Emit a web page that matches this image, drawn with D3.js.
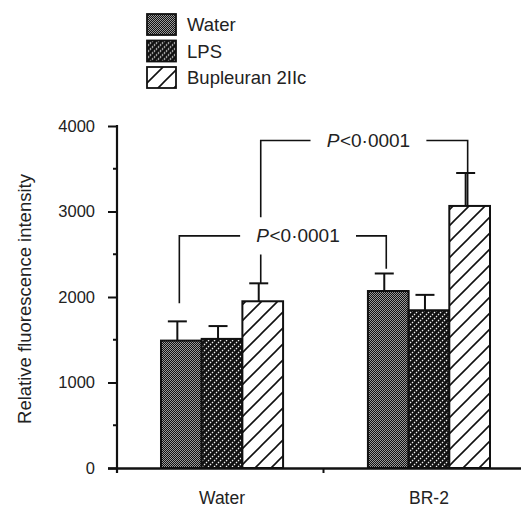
<!DOCTYPE html>
<html>
<head>
<meta charset="utf-8">
<script src="https://cdn.jsdelivr.net/npm/d3@7"></script>
<style>
body { margin: 0; background: #fff; overflow: hidden; }
svg { display: block; }
</style>
</head>
<body>
<svg width="521" height="509"></svg>
<script>
const groups = ['Water', 'BR-2']
const series = ['Water', 'LPS', 'Bupleuran 2IIc']
const waterMeans = [1490, 1510, 1950]
const waterErrors = [225, 150, 210]
const br2Means = [2070, 1845, 3065]
const br2Errors = [205, 180, 385]
const yTicks = [0, 1000, 2000, 3000, 4000]
const yMinorTicks = [500, 1500, 2500, 3500]
const bracketSeries = ['Water', 'Bupleuran 2IIc']
const bracketTops = [2715, 3830]
const bracketLeftEnds = [1935, 2160]
const bracketRightEnds = [2340, 3065]
const bracketLabels = ['<0·0001', '<0·0001']

const font = "'Liberation Sans', Arial, sans-serif"

const svg = d3.select('svg')
  .attr('font-family', font)
const width = +svg.attr('width')
const height = +svg.attr('height')

const margin = { top: 126, left: 117 }
const innerHeight = 342
const innerWidth = width - margin.left

// patterns for the three treatments
const defs = svg.append('defs')

const pWater = defs.append('pattern')
  .attr('id', 'pat-water')
  .attr('patternUnits', 'userSpaceOnUse')
  .attr('width', 2).attr('height', 2)
pWater.append('rect').attr('width', 2).attr('height', 2).attr('fill', '#9a9a9a')
pWater.append('rect').attr('width', 1).attr('height', 1).attr('fill', '#111')
pWater.append('rect').attr('x', 1).attr('y', 1).attr('width', 1).attr('height', 1).attr('fill', '#111')

const pLps = defs.append('pattern')
  .attr('id', 'pat-lps')
  .attr('patternUnits', 'userSpaceOnUse')
  .attr('width', 6).attr('height', 6)
pLps.append('rect').attr('width', 6).attr('height', 6).attr('fill', '#111')
pLps.append('path')
  .attr('d', 'M-1,7 L7,-1 M-1,1 L1,-1 M5,7 L7,5')
  .attr('stroke', '#fff')
  .attr('stroke-width', 1.1)
  .attr('stroke-dasharray', '1.6,1.2')

const pBup = defs.append('pattern')
  .attr('id', 'pat-bup')
  .attr('patternUnits', 'userSpaceOnUse')
  .attr('width', 16).attr('height', 16)
pBup.append('rect').attr('width', 16).attr('height', 16).attr('fill', '#fff')
pBup.append('path')
  .attr('d', 'M-2,18 L18,-2 M-2,2 L2,-2 M14,18 L18,14')
  .attr('stroke', '#111')
  .attr('stroke-width', 1.6)

const fills = d3.scaleOrdinal()
  .domain(series)
  .range(['url(#pat-water)', 'url(#pat-lps)', 'url(#pat-bup)'])

const data = []
groups.forEach((g, gi) => {
  const means = gi === 0 ? waterMeans : br2Means
  const errs = gi === 0 ? waterErrors : br2Errors
  series.forEach((s, si) => {
    data.push({ group: g, series: s, value: means[si], err: errs[si] })
  })
})

const x = d3.scaleBand()
  .domain(groups)
  .range([0, 417])
  .paddingInner(0.41)
  .paddingOuter(0.2126)

const xInner = d3.scaleBand()
  .domain(series)
  .range([0, x.bandwidth()])

const y = d3.scaleLinear()
  .domain([0, 4000])
  .range([innerHeight, 0])

const cx = (g, s) => x(g) + xInner(s) + xInner.bandwidth() / 2

const g = svg.append('g')
  .attr('transform', `translate(${margin.left}, ${margin.top})`)

// bars
g.selectAll('.bar')
  .data(data)
  .enter()
  .append('rect')
  .attr('class', 'bar')
  .attr('x', d => x(d.group) + xInner(d.series))
  .attr('y', d => y(d.value))
  .attr('width', xInner.bandwidth())
  .attr('height', d => y(0) - y(d.value))
  .attr('fill', d => fills(d.series))
  .attr('stroke', '#111')
  .attr('stroke-width', 2)

// error bars
const err = g.selectAll('.err')
  .data(data)
  .enter()
  .append('g')
  .attr('class', 'err')
  .attr('transform', d => `translate(${cx(d.group, d.series) - 4}, 0)`)
err.append('line')
  .attr('y1', d => y(d.value))
  .attr('y2', d => y(d.value + d.err))
  .attr('stroke', '#111')
  .attr('stroke-width', 2)
err.append('line')
  .attr('x1', -9.5)
  .attr('x2', 9.5)
  .attr('y1', d => y(d.value + d.err))
  .attr('y2', d => y(d.value + d.err))
  .attr('stroke', '#111')
  .attr('stroke-width', 2)

// y axis
const yAxis = d3.axisLeft(y)
  .tickValues(yTicks)
  .tickSize(9)
  .tickPadding(13)
  .tickFormat(d3.format('d'))
const yAxisG = g.append('g').call(yAxis)
  .attr('font-size', 16.5)
  .attr('font-family', font)
yAxisG.select('.domain').remove()
yAxisG.selectAll('.tick line').attr('stroke', '#111').attr('stroke-width', 2)
yAxisG.selectAll('.tick text').attr('fill', '#222')

// minor ticks, lines only
g.append('g')
  .selectAll('line')
  .data(yMinorTicks)
  .enter()
  .append('line')
  .attr('x1', -4).attr('x2', 0)
  .attr('y1', d => y(d)).attr('y2', d => y(d))
  .attr('stroke', '#111')
  .attr('stroke-width', 2)

g.append('line')
  .attr('x1', 0).attr('x2', 0)
  .attr('y1', y(4000) - 1).attr('y2', y(0) + 5)
  .attr('stroke', '#111')
  .attr('stroke-width', 2.2)

// x axis baseline
g.append('line')
  .attr('x1', -9).attr('x2', innerWidth)
  .attr('y1', y(0) + 0.5).attr('y2', y(0) + 0.5)
  .attr('stroke', '#111')
  .attr('stroke-width', 2.6)

const midTick = x('BR-2') - x.step() * x.paddingInner() / 2 - 2
g.append('line')
  .attr('x1', midTick).attr('x2', midTick)
  .attr('y1', y(0)).attr('y2', y(0) + 5)
  .attr('stroke', '#111')
  .attr('stroke-width', 2)

g.selectAll('.xlabel')
  .data(groups)
  .enter()
  .append('text')
  .attr('class', 'xlabel')
  .attr('x', d => x(d) + x.bandwidth() / 2)
  .attr('y', height - margin.top - 5)
  .attr('text-anchor', 'middle')
  .attr('font-size', 17.5)
  .attr('fill', '#222')
  .text(d => d)

svg.append('text')
  .attr('transform', `translate(31, 299) rotate(-90)`)
  .attr('text-anchor', 'middle')
  .attr('font-size', 18.5)
  .attr('fill', '#222')
  .text('Relative fluorescence intensity')

// significance brackets: labels first (italic P + rest), then lines broken around them
const labelShift = [15, 4]
const pad = 17
const boxes = bracketSeries.map((s, i) => {
  const x1 = cx('Water', s) - 2
  const x2 = cx('BR-2', s) - 2
  const yt = y(bracketTops[i])
  const lg = g.append('g')
  const tp = lg.append('text')
    .attr('y', yt + 6.5)
    .attr('font-size', 19)
    .attr('font-style', 'italic')
    .attr('fill', '#222')
    .text('P')
  const tr = lg.append('text')
    .attr('y', yt + 6.5)
    .attr('font-size', 19)
    .attr('fill', '#222')
    .text(bracketLabels[i])
  const wp = tp.node().getComputedTextLength()
  const wr = tr.node().getComputedTextLength()
  const left = (x1 + x2) / 2 + labelShift[i] - (wp + wr) / 2
  tp.attr('x', left)
  tr.attr('x', left + wp + 0.5)
  const bb = lg.node().getBBox()
  return { x0: bb.x - pad, x1: bb.x + bb.width + pad, y0: bb.y - 9, y1: bb.y + bb.height + 9 }
})

const vSegments = (xv, ya, yb) => {
  let segs = [[Math.min(ya, yb), Math.max(ya, yb)]]
  boxes.forEach(b => {
    if (xv < b.x0 || xv > b.x1) return
    segs = segs.flatMap(([a, c]) => {
      if (c <= b.y0 || a >= b.y1) return [[a, c]]
      const out = []
      if (a < b.y0) out.push([a, b.y0])
      if (c > b.y1) out.push([b.y1, c])
      return out
    })
  })
  return segs.map(([a, c]) => `M${xv},${a} V${c}`).join(' ')
}

bracketSeries.forEach((s, i) => {
  const x1 = cx('Water', s) - 2
  const x2 = cx('BR-2', s) - 2
  const yt = y(bracketTops[i])
  const b = boxes[i]
  const d = vSegments(x1, y(bracketLeftEnds[i]), yt) + ' ' +
    `M${x1},${yt} H${b.x0} M${b.x1},${yt} H${x2} ` +
    vSegments(x2, yt, y(bracketRightEnds[i]))
  g.append('path')
    .attr('d', d)
    .attr('fill', 'none')
    .attr('stroke', '#111')
    .attr('stroke-width', 1.6)
    .attr('stroke-linecap', 'square')
})

// legend
const legend = svg.append('g')
  .attr('transform', 'translate(147, 14)')
const item = legend.selectAll('.legend-item')
  .data(series)
  .enter()
  .append('g')
  .attr('class', 'legend-item')
  .attr('transform', (d, i) => `translate(0, ${i * 26.5})`)
item.append('rect')
  .attr('width', 29)
  .attr('height', 21)
  .attr('fill', d => fills(d))
  .attr('stroke', '#111')
  .attr('stroke-width', 1.8)
item.append('text')
  .attr('x', 40)
  .attr('y', 17)
  .attr('font-size', 18.5)
  .attr('fill', '#222')
  .text(d => d)
</script>
</body>
</html>
